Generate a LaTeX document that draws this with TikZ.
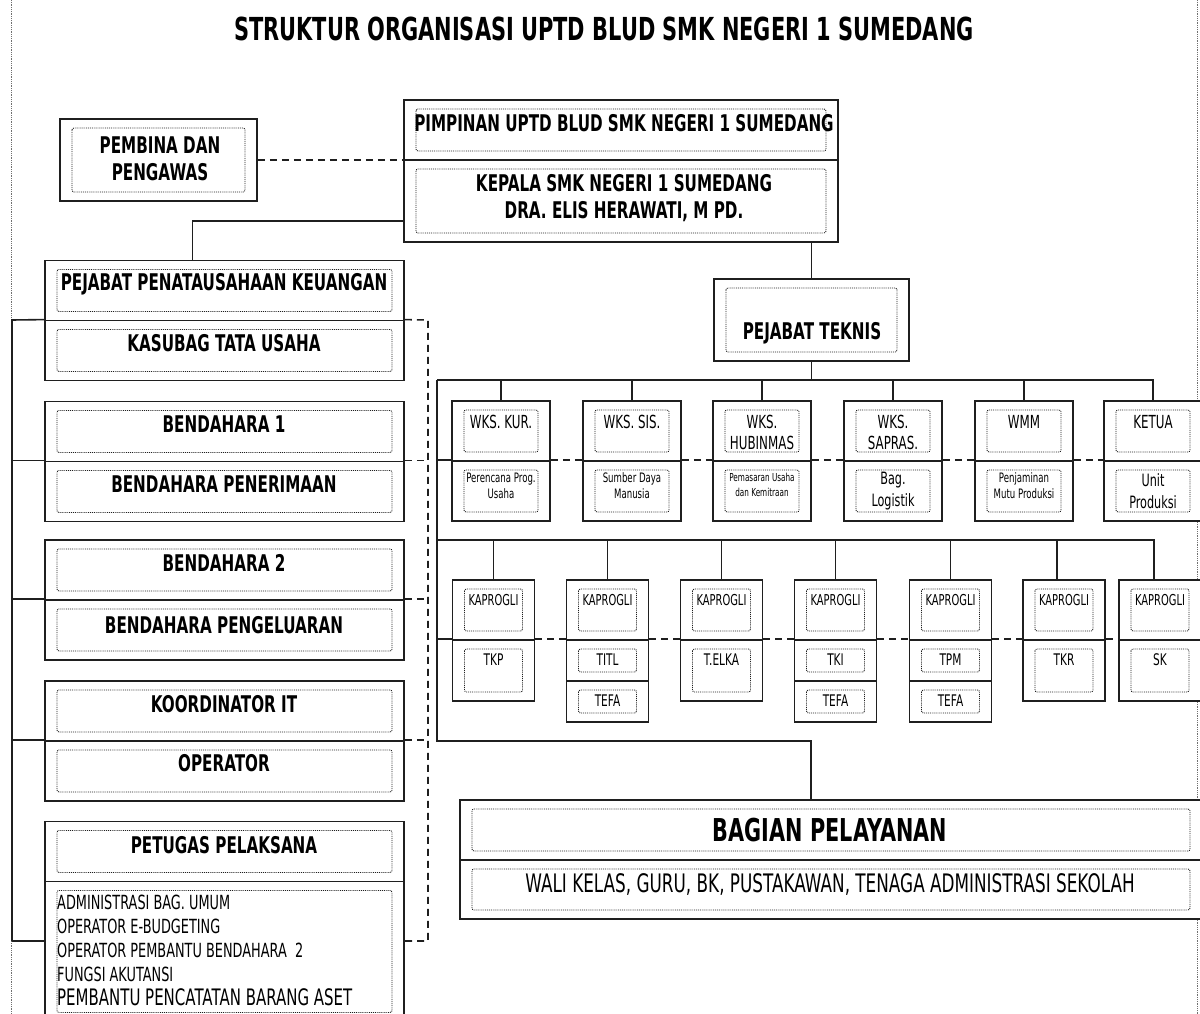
\documentclass[tikz,border=0pt]{standalone}
\usepackage{xcolor}
\usepackage{tikz}
\usepackage{fontspec}
\newfontfamily\huruf[FakeStretch=0.66]{DejaVu Sans}
\definecolor{garis}{HTML}{1F1F1F}
\definecolor{tepi}{HTML}{707070}

\begin{document}
\begin{tikzpicture}[x=1pt, y=-1pt, font=\huruf,
  kotak/.style={draw=garis, line width=1.8pt, fill=white, inner sep=0pt,
    path picture={\draw[garis, line width=0.9pt, densely dotted, rounded corners=2pt]
      ([xshift=12pt,yshift=-9pt]path picture bounding box.north west) rectangle
      ([xshift=-12pt,yshift=9pt]path picture bounding box.south east);}},
  kiri/.style={kotak, minimum width=359pt, minimum height=60pt},
  wks/.style={kotak, minimum width=98pt, minimum height=60pt},
  prog/.style={kotak, minimum width=82pt, minimum height=60pt},
  separuh/.style={kotak, minimum width=82pt, minimum height=41pt},
  judul/.style={inner sep=0pt, font=\huruf\bfseries\fontsize{31.7}{36}\selectfont},
  besar/.style={inner sep=0pt, align=center, font=\huruf\bfseries\fontsize{23}{27}\selectfont},
  sedang/.style={inner sep=0pt, align=center, font=\huruf\fontsize{18}{21}\selectfont},
  kecil/.style={inner sep=0pt, align=center, font=\huruf\fontsize{13}{16}\selectfont},
  hub/.style={draw=garis, line width=1.6pt},
  putus/.style={draw=garis, line width=1.6pt, dash pattern=on 7pt off 5pt},
  halaman/.style={draw=tepi, line width=0.8pt, densely dotted}]

  \useasboundingbox (0,0) rectangle (1200,1014);
  \clip (0,0) rectangle (1200,1014);

  % Batas halaman
  \draw[halaman] (11,0) -- (11,320);
  \draw[halaman] (11,941) -- (11,1014);
  \draw[halaman] (1197,0) -- (1197,1014);

  % Judul
  \node[judul] (judul) at (604,29) {STRUKTUR ORGANISASI UPTD BLUD SMK NEGERI 1 SUMEDANG};

  % Pimpinan
  \node[kotak, minimum width=434pt, minimum height=60pt] (pimpinan) at (621,130) {};
  \node[besar] (pimpinan-t) at (624,123) {PIMPINAN UPTD BLUD SMK NEGERI 1 SUMEDANG};
  \node[kotak, minimum width=434pt, minimum height=82pt] (kepala) at (621,201) {};
  \node[besar] (kepala-t) at (624,198) {KEPALA SMK NEGERI 1 SUMEDANG\\DRA. ELIS HERAWATI, M PD.};

  \node[kotak, minimum width=197pt, minimum height=82pt] (pembina) at (158.5,160) {};
  \node[besar] (pembina-t) at (160,159) {PEMBINA DAN\\PENGAWAS};

  % Kolom kiri
  \node[kiri] (ppk) at (224.5,290.5) {};
  \node[besar] (ppk-t) at (224,284) {PEJABAT PENATAUSAHAAN KEUANGAN};
  \node[kiri] (kasubag) at (224.5,350.5) {};
  \node[besar] (kasubag-t) at (224,343) {KASUBAG TATA USAHA};
  \node[kiri] (bend1) at (224.5,431.5) {};
  \node[besar] (bend1-t) at (224,424) {BENDAHARA 1};
  \node[kiri] (terima) at (224.5,491.5) {};
  \node[besar] (terima-t) at (224,484) {BENDAHARA PENERIMAAN};
  \node[kiri] (bend2) at (224.5,570) {};
  \node[besar] (bend2-t) at (224,563) {BENDAHARA 2};
  \node[kiri] (keluar) at (224.5,630) {};
  \node[besar] (keluar-t) at (224,625) {BENDAHARA PENGELUARAN};
  \node[kiri] (koordit) at (224.5,711) {};
  \node[besar] (koordit-t) at (224,704) {KOORDINATOR IT};
  \node[kiri] (operator) at (224.5,771) {};
  \node[besar] (operator-t) at (224,763) {OPERATOR};
  \node[kiri] (petugas) at (224.5,851.5) {};
  \node[besar] (petugas-t) at (224,845) {PETUGAS PELAKSANA};
  \node[kiri, minimum height=140pt] (pelaksana) at (224.5,951.5) {};
  \node[inner sep=0pt, anchor=north west, align=left, font=\huruf\fontsize{19.5}{24}\selectfont]
    (pelaksana-t) at (57,895) {ADMINISTRASI BAG. UMUM\\OPERATOR E-BUDGETING\\
    OPERATOR PEMBANTU BENDAHARA\ \ 2\\FUNGSI AKUTANSI\\
    {\fontsize{22.7}{23}\selectfont PEMBANTU PENCATATAN BARANG ASET}};

  % Pejabat teknis
  \node[kotak, minimum width=195pt, minimum height=82pt] (teknis) at (811.5,320) {};
  \node[besar] (teknis-t) at (812,333) {PEJABAT TEKNIS};

  % Wakil kepala sekolah
  \node[wks] (kur) at (501,431) {};
  \node[wks] (kur-b) at (501,491) {};
  \node[sedang] (kur-t) at (501,422) {WKS. KUR.};
  \node[kecil] (kur-bt) at (501,486) {Perencana Prog.\\Usaha};
  \node[wks] (sis) at (632,431) {};
  \node[wks] (sis-b) at (632,491) {};
  \node[sedang] (sis-t) at (632,422) {WKS. SIS.};
  \node[kecil] (sis-bt) at (632,486) {Sumber Daya\\Manusia};
  \node[wks] (hub) at (762,431) {};
  \node[wks] (hub-b) at (762,491) {};
  \node[sedang] (hub-t) at (762,432) {WKS.\\HUBINMAS};
  \node[kecil, font=\huruf\fontsize{11}{15}\selectfont] (hub-bt) at (762,485) {Pemasaran Usaha\\dan Kemitraan};
  \node[wks] (sapras) at (893,431) {};
  \node[wks] (sapras-b) at (893,491) {};
  \node[sedang] (sapras-t) at (893,432) {WKS.\\SAPRAS.};
  \node[sedang, font=\huruf\fontsize{17}{22}\selectfont] (sapras-bt) at (893,491) {Bag.\\Logistik};
  \node[wks] (wmm) at (1024,431) {};
  \node[wks] (wmm-b) at (1024,491) {};
  \node[sedang] (wmm-t) at (1024,422) {WMM};
  \node[kecil] (wmm-bt) at (1024,486) {Penjaminan\\Mutu Produksi};
  \node[wks] (ketua) at (1153,431) {};
  \node[wks] (ketua-b) at (1153,491) {};
  \node[sedang] (ketua-t) at (1153,422) {KETUA};
  \node[sedang, font=\huruf\fontsize{17}{22}\selectfont] (ketua-bt) at (1153,491) {Unit\\Produksi};

  % Kaprogli
  \node[prog] (tkp-k) at (493.5,610) {};
  \node[prog, minimum height=61pt] (tkp) at (493.5,670.5) {};
  \node[kecil, font=\huruf\fontsize{15}{18}\selectfont] (tkp-kt) at (493.5,600) {KAPROGLI};
  \node[sedang, font=\huruf\fontsize{16}{18}\selectfont] (tkp-t) at (493.5,660) {TKP};
  \node[prog] (titl-k) at (607.5,610) {};
  \node[separuh] (titl) at (607.5,660.5) {};
  \node[separuh] (titl-f) at (607.5,701.5) {};
  \node[kecil, font=\huruf\fontsize{15}{18}\selectfont] (titl-kt) at (607.5,600) {KAPROGLI};
  \node[sedang, font=\huruf\fontsize{16}{18}\selectfont] (titl-t) at (607.5,660) {TITL};
  \node[sedang, font=\huruf\fontsize{16}{18}\selectfont] (titl-ft) at (607.5,701) {TEFA};
  \node[prog] (elka-k) at (721.5,610) {};
  \node[prog, minimum height=61pt] (elka) at (721.5,670.5) {};
  \node[kecil, font=\huruf\fontsize{15}{18}\selectfont] (elka-kt) at (721.5,600) {KAPROGLI};
  \node[sedang, font=\huruf\fontsize{16}{18}\selectfont] (elka-t) at (721.5,660) {T.ELKA};
  \node[prog] (tki-k) at (835.5,610) {};
  \node[separuh] (tki) at (835.5,660.5) {};
  \node[separuh] (tki-f) at (835.5,701.5) {};
  \node[kecil, font=\huruf\fontsize{15}{18}\selectfont] (tki-kt) at (835.5,600) {KAPROGLI};
  \node[sedang, font=\huruf\fontsize{16}{18}\selectfont] (tki-t) at (835.5,660) {TKI};
  \node[sedang, font=\huruf\fontsize{16}{18}\selectfont] (tki-ft) at (835.5,701) {TEFA};
  \node[prog] (tpm-k) at (950.5,610) {};
  \node[separuh] (tpm) at (950.5,660.5) {};
  \node[separuh] (tpm-f) at (950.5,701.5) {};
  \node[kecil, font=\huruf\fontsize{15}{18}\selectfont] (tpm-kt) at (950.5,600) {KAPROGLI};
  \node[sedang, font=\huruf\fontsize{16}{18}\selectfont] (tpm-t) at (950.5,660) {TPM};
  \node[sedang, font=\huruf\fontsize{16}{18}\selectfont] (tpm-ft) at (950.5,701) {TEFA};
  \node[prog] (tkr-k) at (1064,610) {};
  \node[prog, minimum height=61pt] (tkr) at (1064,670.5) {};
  \node[kecil, font=\huruf\fontsize{15}{18}\selectfont] (tkr-kt) at (1064,600) {KAPROGLI};
  \node[sedang, font=\huruf\fontsize{16}{18}\selectfont] (tkr-t) at (1064,660) {TKR};
  \node[prog] (sk-k) at (1160,610) {};
  \node[prog, minimum height=61pt] (sk) at (1160,670.5) {};
  \node[kecil, font=\huruf\fontsize{15}{18}\selectfont] (sk-kt) at (1160,600) {KAPROGLI};
  \node[sedang, font=\huruf\fontsize{16}{18}\selectfont] (sk-t) at (1160,660) {SK};

  % Bagian pelayanan
  \node[kotak, minimum width=742pt, minimum height=60pt] (bagian) at (831,830) {};
  \node[besar, font=\huruf\bfseries\fontsize{31.5}{34}\selectfont] (bagian-t) at (830,830) {BAGIAN PELAYANAN};
  \node[kotak, minimum width=742pt, minimum height=59pt] (layanan) at (831,889.5) {};
  \node[sedang, font=\huruf\fontsize{25.5}{28}\selectfont] (layanan-t) at (830,885) {WALI KELAS, GURU, BK, PUSTAKAWAN, TENAGA ADMINISTRASI SEKOLAH};

  % Garis pimpinan
  \draw[putus] (pembina.east) -- (pembina.east -| pimpinan.west);
  \draw[hub] ([yshift=-20pt]kepala.west) -| ([xshift=-32pt]ppk.north);
  \draw[hub] (teknis.north |- kepala.south) -- (teknis.north);

  % Garis kolom kiri
  \coordinate (rel-a) at (12,320);
  \coordinate (rel-b) at (12,941);
  \coordinate (rel-c) at (428,320);
  \coordinate (rel-d) at (428,941);
  \draw[hub] (rel-b) -- (rel-a) -- (kasubag.north west);
  \draw[hub] (rel-a |- terima.north) -- (terima.north west);
  \draw[hub] (rel-a |- keluar.north) -- (keluar.north west);
  \draw[hub] (rel-a |- operator.north) -- (operator.north west);
  \draw[hub] (rel-b) -- (rel-b -| pelaksana.west);
  \draw[putus] (kasubag.north east) -- (rel-c) -- (rel-d) -- (rel-d -| pelaksana.east);
  \draw[putus] (terima.north east) -- (rel-c |- terima.north);
  \draw[putus] (keluar.north east) -- (rel-c |- keluar.north);
  \draw[putus] (operator.north east) -- (rel-c |- operator.north);

  % Garis pejabat teknis
  \coordinate (sudut) at (437,380);
  \coordinate (sudut2) at (437,540);
  \coordinate (turun) at (811,741);
  \draw[hub] (teknis.south) -- (teknis.south |- sudut);
  \draw[hub] (sudut) -- (ketua.north |- sudut) -- (ketua.north);
  \draw[hub] (kur.north |- sudut) -- (kur.north);
  \draw[hub] (sis.north |- sudut) -- (sis.north);
  \draw[hub] (hub.north |- sudut) -- (hub.north);
  \draw[hub] (sapras.north |- sudut) -- (sapras.north);
  \draw[hub] (wmm.north |- sudut) -- (wmm.north);
  \draw[hub] (sudut) |- (turun) -- (turun |- bagian.north);
  \draw[hub] (sudut |- kur-b.north) -- (kur-b.north west);
  \draw[putus] (kur-b.north east) -- (sis-b.north west);
  \draw[putus] (sis-b.north east) -- (hub-b.north west);
  \draw[putus] (hub-b.north east) -- (sapras-b.north west);
  \draw[putus] (sapras-b.north east) -- (wmm-b.north west);
  \draw[putus] (wmm-b.north east) -- (ketua-b.north west);

  % Garis kaprogli
  \draw[hub] (sudut2) -- ([xshift=-6pt]sk-k.north |- sudut2) -- ([xshift=-6pt]sk-k.north);
  \draw[hub] (tkp-k.north |- sudut2) -- (tkp-k.north);
  \draw[hub] (titl-k.north |- sudut2) -- (titl-k.north);
  \draw[hub] (elka-k.north |- sudut2) -- (elka-k.north);
  \draw[hub] (tki-k.north |- sudut2) -- (tki-k.north);
  \draw[hub] (tpm-k.north |- sudut2) -- (tpm-k.north);
  \draw[hub] ([xshift=-7pt]tkr-k.north |- sudut2) -- ([xshift=-7pt]tkr-k.north);
  \draw[hub] (sudut |- tkp.north) -- (tkp.north west);
  \draw[putus] (tkp.north east) -- (titl.north west);
  \draw[putus] (titl.north east) -- (elka.north west);
  \draw[putus] (elka.north east) -- (tki.north west);
  \draw[putus] (tki.north east) -- (tpm.north west);
  \draw[putus] (tpm.north east) -- (tkr.north west);
  \draw[putus] (tkr.north east) -- (sk.north west);
\end{tikzpicture}
\end{document}
